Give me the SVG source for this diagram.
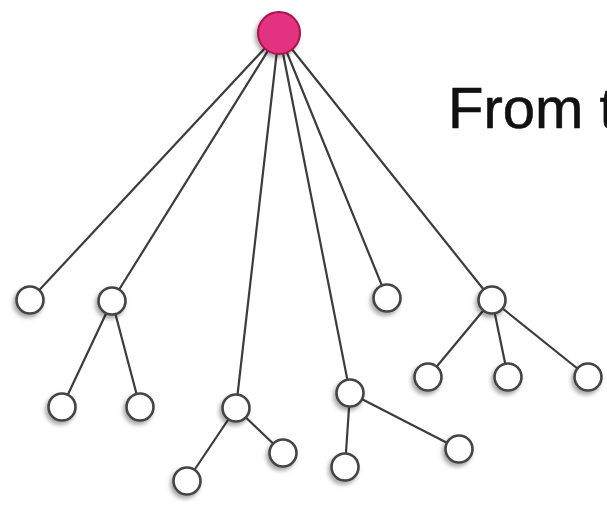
<svg xmlns="http://www.w3.org/2000/svg" width="607" height="505" viewBox="0 0 607 505">
<defs>
<filter id="sh" x="-60%" y="-60%" width="220%" height="220%">
<feDropShadow dx="-2" dy="3" stdDeviation="2" flood-color="#000" flood-opacity="0.35"/>
</filter>
<style>
.e{stroke:#3c3c3c;stroke-width:2.2;fill:none;stroke-linecap:round}
.n{fill:#ffffff;stroke:#444;stroke-width:2.6;filter:url(#sh)}
.r{fill:#e3317f;stroke:#a8124e;stroke-width:2;filter:url(#sh)}
.t{font-family:"Liberation Sans",Arial,sans-serif;font-size:58px;fill:#111}
</style>
</defs>
<rect width="607" height="505" fill="#fff"/>
<g id="connectors">
<line class="e" x1="279" y1="33" x2="30" y2="300"/>
<line class="e" x1="279" y1="33" x2="112" y2="301"/>
<line class="e" x1="279" y1="33" x2="236" y2="408"/>
<line class="e" x1="279" y1="33" x2="350" y2="393"/>
<line class="e" x1="279" y1="33" x2="387" y2="298"/>
<line class="e" x1="279" y1="33" x2="492" y2="300"/>
<line class="e" x1="112" y1="301" x2="62" y2="407"/>
<line class="e" x1="112" y1="301" x2="140" y2="407"/>
<line class="e" x1="236" y1="408" x2="187" y2="481"/>
<line class="e" x1="236" y1="408" x2="283" y2="453"/>
<line class="e" x1="350" y1="393" x2="345" y2="467"/>
<line class="e" x1="350" y1="393" x2="459" y2="449"/>
<line class="e" x1="492" y1="300" x2="428" y2="377"/>
<line class="e" x1="492" y1="300" x2="508" y2="377"/>
<line class="e" x1="492" y1="300" x2="588" y2="377"/>
</g>
<g id="root"><circle class="r" cx="279" cy="33" r="21"/></g>
<g id="n1"><circle class="n" cx="30" cy="300" r="13.5"/></g>
<g id="n2"><circle class="n" cx="112" cy="301" r="13.5"/></g>
<g id="n3"><circle class="n" cx="236" cy="408" r="13.5"/></g>
<g id="n4"><circle class="n" cx="350" cy="393" r="13.5"/></g>
<g id="n5"><circle class="n" cx="387" cy="298" r="13.5"/></g>
<g id="n6"><circle class="n" cx="492" cy="300" r="13.5"/></g>
<g id="n7"><circle class="n" cx="62" cy="407" r="13.5"/></g>
<g id="n8"><circle class="n" cx="140" cy="407" r="13.5"/></g>
<g id="n9"><circle class="n" cx="187" cy="481" r="13.5"/></g>
<g id="n10"><circle class="n" cx="283" cy="453" r="13.5"/></g>
<g id="n11"><circle class="n" cx="345" cy="467" r="13.5"/></g>
<g id="n12"><circle class="n" cx="459" cy="449" r="13.5"/></g>
<g id="n13"><circle class="n" cx="428" cy="377" r="13.5"/></g>
<g id="n14"><circle class="n" cx="508" cy="377" r="13.5"/></g>
<g id="n15"><circle class="n" cx="588" cy="377" r="13.5"/></g>
<text class="t" x="448" y="128" stroke="#111" stroke-width="0.6">From t</text>
</svg>
